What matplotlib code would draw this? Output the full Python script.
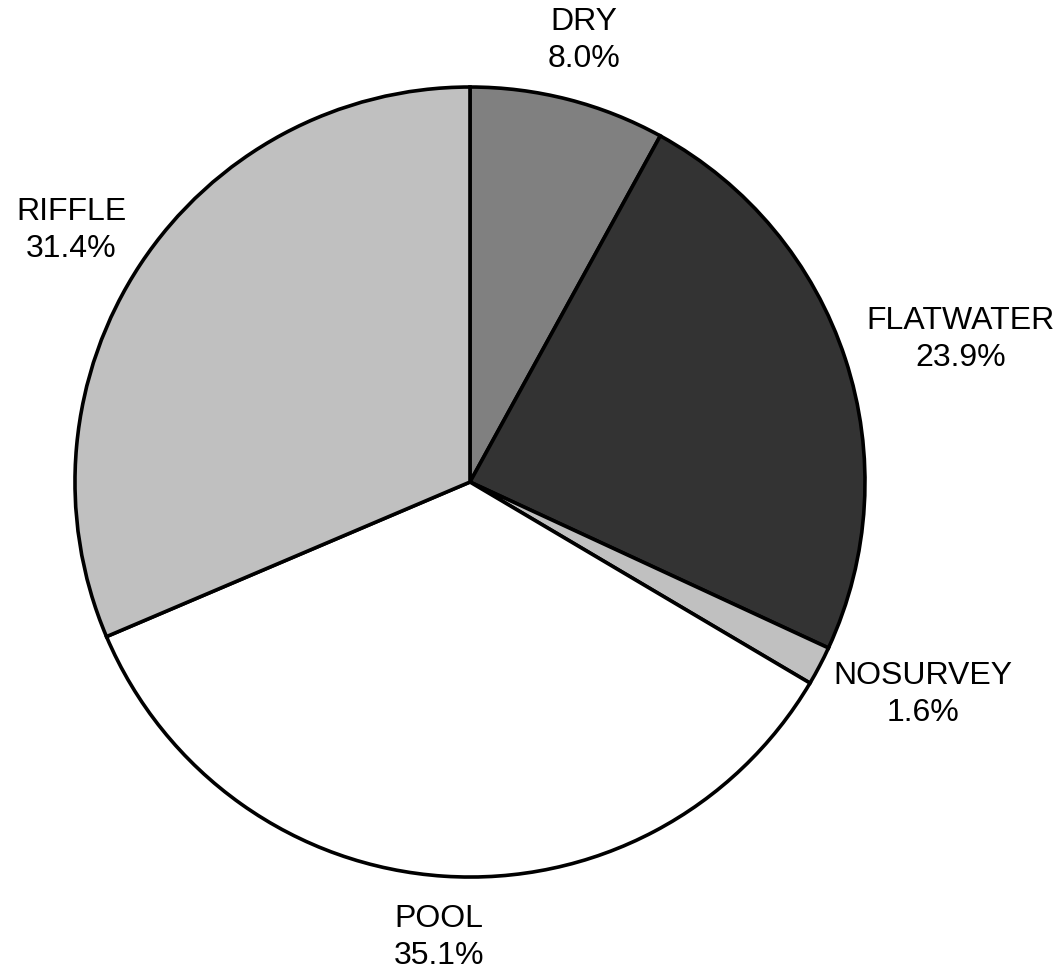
import matplotlib
matplotlib.use("Agg")
import matplotlib.pyplot as plt
import numpy as np

# habitat share by reach type
categories = ["DRY", "FLATWATER", "NOSURVEY", "POOL", "RIFFLE"]
percents = [8.0, 23.9, 1.6, 35.1, 31.4]
colors = ["#808080", "#333333", "#c0c0c0", "#ffffff", "#c0c0c0"]

plt.rcParams['font.family'] = ['Liberation Sans', 'DejaVu Sans']

fig = plt.figure(figsize=(10.59, 9.69), dpi=100)
ax = fig.add_axes([0.0708, 0.0949, 0.746, 0.8153])

wedges, _ = ax.pie(percents, colors=colors, startangle=90, counterclock=False,
                   radius=1.0,
                   wedgeprops=dict(edgecolor="black", linewidth=2.6))
ax.set_xlim(-1, 1)
ax.set_ylim(-1, 1)
ax.set_aspect("auto")
ax.axis("off")

# place labels just outside each wedge, pushed out by half their box
label_r = 1.07
texts = []
for w, cat, pct in zip(wedges, categories, percents):
    theta = np.deg2rad((w.theta1 + w.theta2) / 2)
    t = ax.text(label_r * np.cos(theta), label_r * np.sin(theta),
                f"{cat}\n{pct:.1f}%", ha="center", va="center",
                fontsize=23, linespacing=1.3)
    texts.append((t, theta))

fig.canvas.draw()
renderer = fig.canvas.get_renderer()
r_px = ax.transData.transform((1, 0))[0] - ax.transData.transform((0, 0))[0]
for t, theta in texts:
    bb = t.get_window_extent(renderer)
    x, y = t.get_position()
    x += (bb.width / 2) * np.cos(theta) / r_px
    y += (bb.height / 2) * np.sin(theta) / r_px
    t.set_position((x, y))

fig.savefig("out.png", dpi=100, facecolor="white")
